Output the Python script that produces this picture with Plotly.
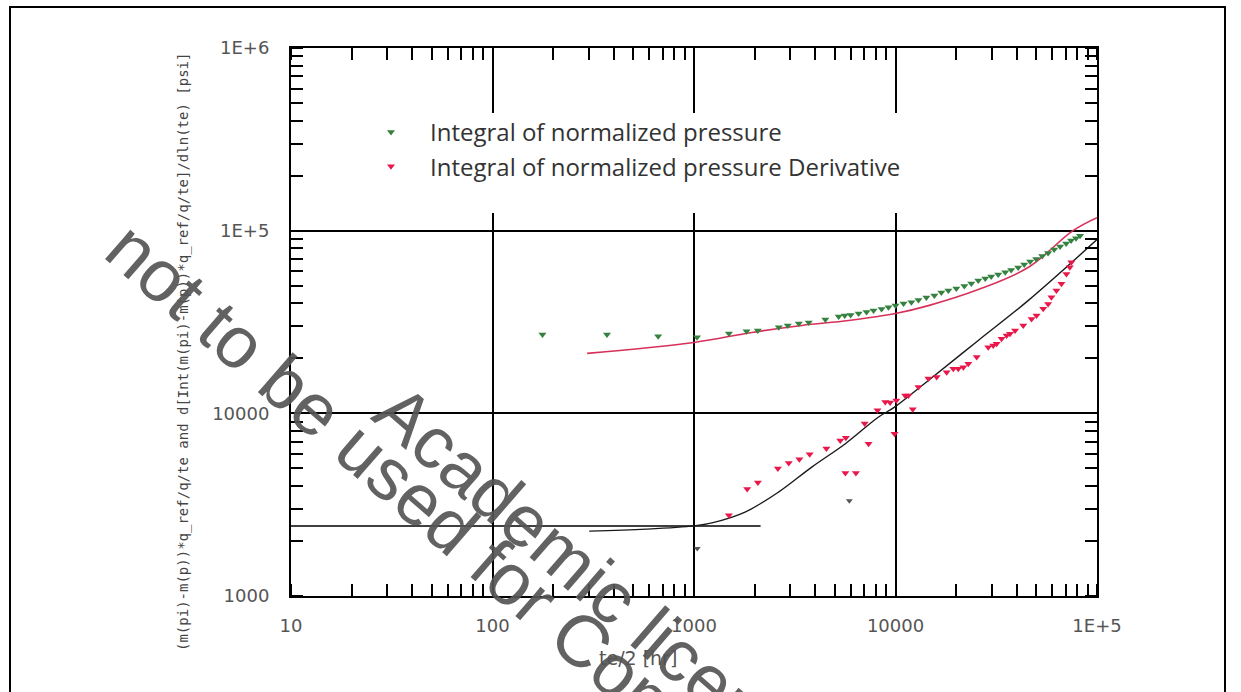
import plotly.graph_objects as go

# ---------------- data ----------------
green_x = [177, 370, 664, 1035, 1490, 1823, 2073, 2636, 2920, 3311, 3710, 4486,
           5224, 5598, 5987, 6561, 7183, 7782, 8527, 9230, 10000, 10960,
           11990, 13000, 14230, 15590, 16890, 18290, 20040, 21960, 23780, 25750,
           27900, 29850, 32340, 35050, 37500, 40640, 43540, 46600, 49930, 53460,
           57200, 61300, 65600, 70300, 74360, 78700, 82400]
green_y = [27000, 27000, 26450, 26100, 27350, 28150, 28420, 29620, 30270, 31040, 31430, 32640,
           33900, 34310, 34520, 35190, 35860, 36540, 37240, 38090, 38900, 39900,
           40550, 41690, 43030, 44150, 45830, 47000, 48200, 49750, 51330, 53300,
           54690, 56090, 57520, 59200, 60850, 62800, 65220, 67730, 69870, 72560,
           75350, 78800, 81800, 84960, 88210, 90970, 93910]

red_x = [1490, 1836, 2075, 2608, 2953, 3334, 3750, 4540, 5320, 5670, 5640, 6360,
         7030, 7350, 8140, 8900, 9400, 10100, 9890, 11170, 11590, 12180, 13000,
         14560, 16010, 17940, 19360, 20490, 21710, 22980, 25290, 28870, 30550,
         31750, 33600, 35600, 37000, 39200, 43050, 47340, 50100, 54080, 57200,
         59400, 62900, 66600, 70500, 73300, 74600]
red_y = [2770, 3850, 4180, 4990, 5350, 5610, 5970, 6410, 7110, 7360, 4720, 4720,
         8790, 6820, 10380, 11530, 11460, 11750, 7740, 12530, 12530, 10520, 13930,
         15490, 15790, 16810, 17530, 17530, 17900, 18710, 20340, 23010, 23520,
         24060, 25600, 26680, 27300, 28420, 30270, 32860, 34330, 37330, 39720,
         43200, 47000, 51160, 57990, 63030, 67150]

gray_x = [1038, 5900]
gray_y = [1820, 3320]

model_int_x = [295, 1000, 1937, 3428, 5852, 10000, 14560, 25750, 45500, 76000, 100000]
model_int_y = [21280, 24430, 27730, 30280, 32220, 35180, 38880, 47600, 62830, 100000, 117800]

model_der_x = [302, 578, 1000, 1228, 1804, 2636, 3855, 5640, 8240, 9890, 14560, 25750, 45500, 100000]
model_der_y = [2265, 2323, 2420, 2514, 2890, 3716, 5094, 6820, 9550, 10810, 15140, 25060, 41400, 89300]

stab_x = [10, 2140]
stab_y = [2415, 2415]

x_tickvals = [10, 100, 1000, 10000, 100000]
x_ticktext = ["10", "100", "1000", "10000", "1E+5"]
y_tickvals = [1000, 10000, 100000, 1000000]
y_ticktext = ["1000", "10000", "1E+5", "1E+6"]

name_green = "Integral of normalized pressure"
name_red = "Integral of normalized pressure Derivative"
x_title = "te/2 [hr]"
y_title = "(m(pi)-m(p))*q_ref/q/te and d[Int(m(pi)-m(p))*q_ref/q/te]/dln(te) [psi]"
wm_line1 = "not to be used for Commercial purposes"
wm_line2 = "Academic license"

# ---------------- layout helpers (pixel -> paper) ----------------
W, H = 1241, 692
L, R, T, B = 291, 1097, 48, 596


def px(xp):
    return (xp - L) / (R - L)


def py(yp):
    return (B - yp) / (B - T)


GREEN = "#35813f"
RED = "#e8184a"

fig = go.Figure()

fig.add_trace(go.Scatter(x=stab_x, y=stab_y, mode="lines",
                         line=dict(color="black", width=1.6), showlegend=False, hoverinfo="skip"))
fig.add_trace(go.Scatter(x=model_int_x, y=model_int_y, mode="lines", line_shape="spline",
                         line=dict(color="#d8305a", width=1.6), showlegend=False))
fig.add_trace(go.Scatter(x=model_der_x, y=model_der_y, mode="lines", line_shape="spline",
                         line=dict(color="#1a1a1a", width=1.4), showlegend=False))
fig.add_trace(go.Scatter(x=green_x, y=green_y, mode="markers", name=name_green,
                         legendgroup="g1",
                         marker=dict(symbol="triangle-down", size=7, color=GREEN)))
fig.add_trace(go.Scatter(x=red_x, y=red_y, mode="markers", name=name_red,
                         legendgroup="g2",
                         marker=dict(symbol="triangle-down", size=7, color=RED)))
fig.add_trace(go.Scatter(x=gray_x, y=gray_y, mode="markers", showlegend=False,
                         marker=dict(symbol="triangle-down", size=6, color="#555555")))

axis_common = dict(
    type="log",
    showline=True, linecolor="black", linewidth=2, mirror="ticks",
    showgrid=True, gridcolor="black", gridwidth=1.6,
    ticks="", tickmode="array",
    tickfont=dict(family="DejaVu Sans", size=18, color="#555555"),
    zeroline=False,
    minor=dict(dtick="D1", ticks="inside", ticklen=12, tickwidth=1.6,
               tickcolor="black", showgrid=False),
)

fig.update_xaxes(range=[1, 5], tickvals=x_tickvals, ticktext=x_ticktext,
                 ticklabelstandoff=12, **axis_common)
fig.update_yaxes(range=[3, 6], tickvals=y_tickvals, ticktext=y_ticktext,
                 ticklabelstandoff=16, **axis_common)

shapes = [
    # white legend background hiding the grid
    dict(type="rect", xref="paper", yref="paper", layer="above",
         x0=px(306), x1=px(925), y0=py(213), y1=py(113),
         fillcolor="white", line=dict(width=0)),
    # outer frame of the picture
    dict(type="rect", xref="paper", yref="paper", layer="above",
         x0=px(10), x1=px(1225), y0=py(730), y1=py(7),
         fillcolor="rgba(0,0,0,0)", line=dict(color="black", width=2)),
]

annotations = [
    dict(text=y_title, xref="paper", yref="paper", x=px(183), y=py(352),
         textangle=-90, showarrow=False, xanchor="center", yanchor="middle",
         font=dict(family="DejaVu Sans Mono", size=14, color="#444444")),
    dict(text=x_title, xref="paper", yref="paper", x=px(638), y=py(658),
         showarrow=False, xanchor="center", yanchor="middle",
         font=dict(family="DejaVu Sans", size=19, color="#555555")),
    dict(text=wm_line1, xref="paper", yref="paper", x=px(608), y=py(662),
         textangle=41, showarrow=False, xanchor="center", yanchor="middle",
         font=dict(family="Liberation Sans", size=73, color="rgba(85,85,85,0.92)")),
    dict(text=wm_line2, xref="paper", yref="paper", x=px(601), y=py(585),
         textangle=41, showarrow=False, xanchor="center", yanchor="middle",
         font=dict(family="Liberation Sans", size=73, color="rgba(85,85,85,0.92)")),
]

fig.update_layout(
    width=W, height=H,
    margin=dict(l=L, r=W - R, t=T, b=H - B),
    paper_bgcolor="white", plot_bgcolor="white",
    showlegend=True,
    legend=dict(x=px(352), y=py(110), xanchor="left", yanchor="top",
                bgcolor="rgba(0,0,0,0)", borderwidth=0,
                font=dict(family="Open Sans", size=24, color="#333333"),
                itemwidth=68, traceorder="grouped", tracegroupgap=0),
    shapes=shapes,
    annotations=annotations,
)

fig.write_html("out.html")
